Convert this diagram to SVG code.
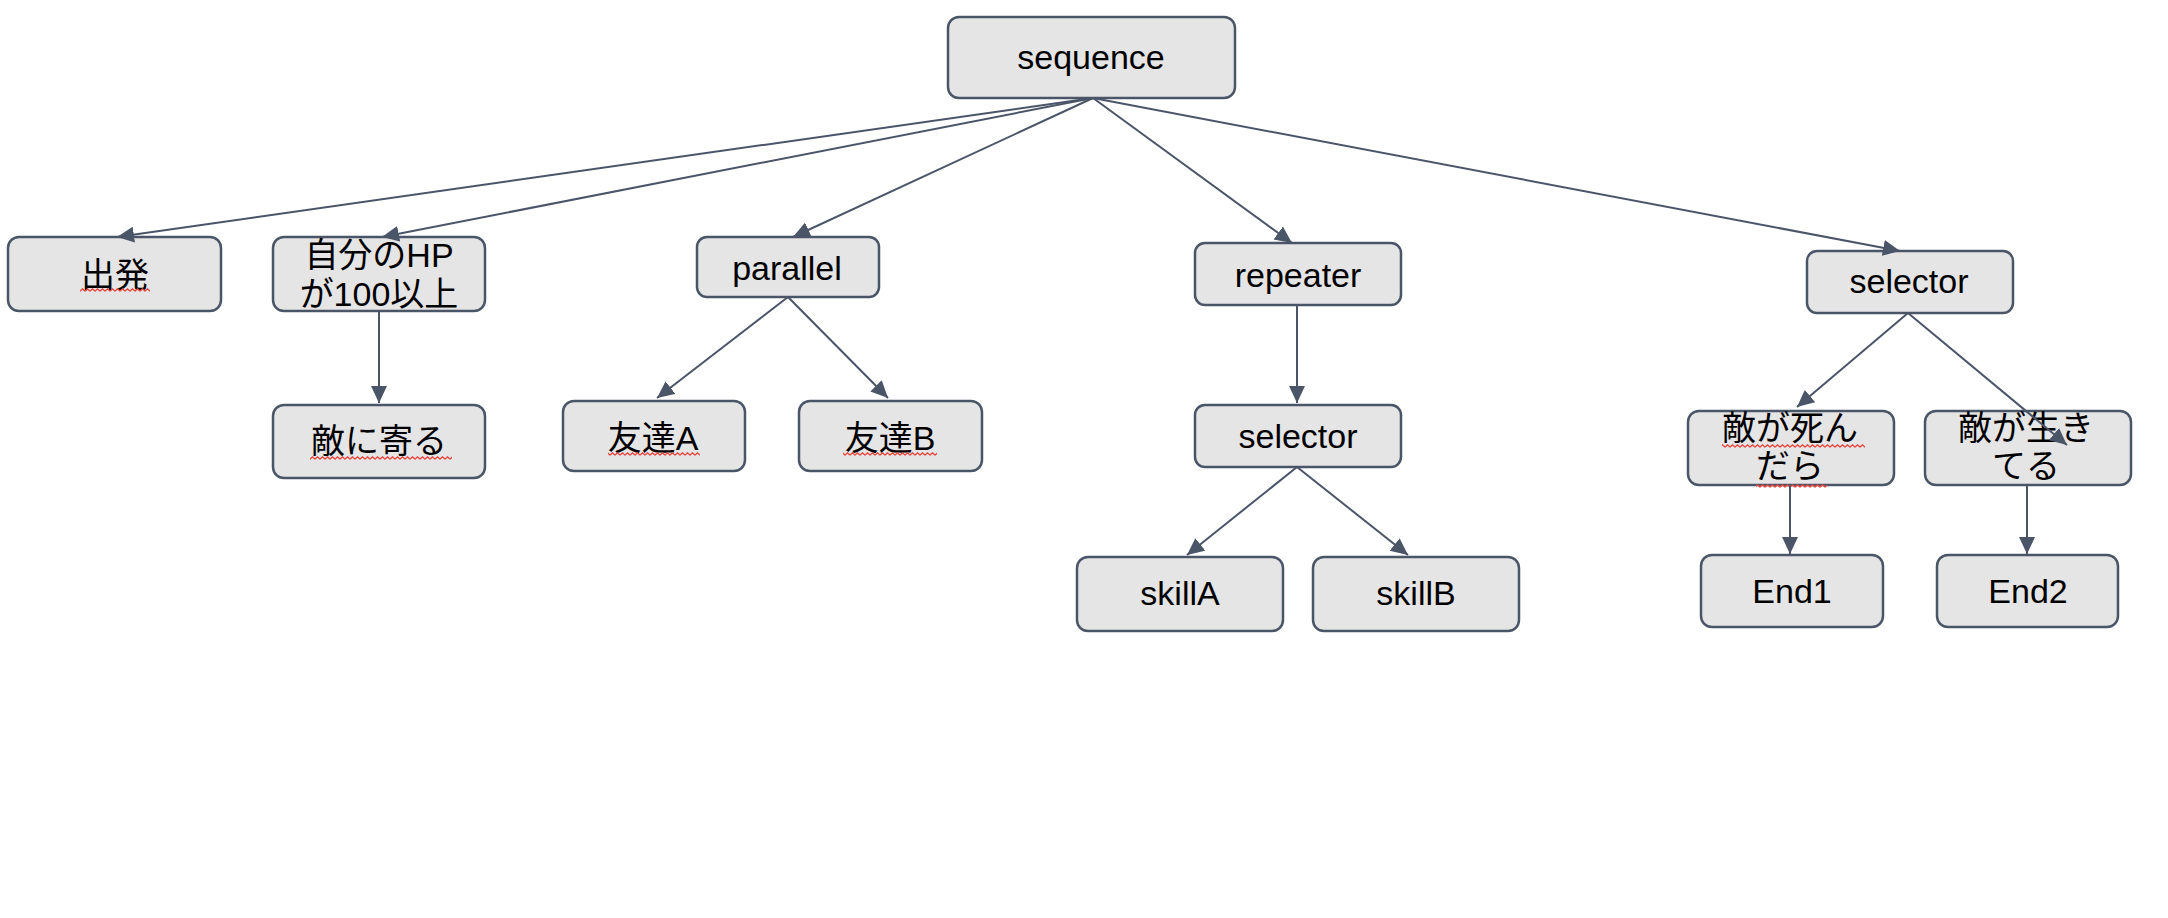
<svg xmlns="http://www.w3.org/2000/svg" width="2168" height="918" viewBox="0 0 2168 918">
<style>
.box{fill:#e5e5e5;stroke:#4b5568;stroke-width:2.5}
.t{font-family:"Liberation Sans","Noto Sans CJK JP",sans-serif;font-size:34px;fill:#000;text-anchor:middle}
.e{stroke:#4b5568;stroke-width:2;fill:none;marker-end:url(#ah)}
.sq{fill:url(#zig)}
</style>
<defs>
<marker id="ah" markerUnits="userSpaceOnUse" markerWidth="19" markerHeight="17" refX="17" refY="8" orient="auto">
<path d="M0,0 L17,8 L0,16 z" fill="#4b5568"/>
</marker>
<pattern id="zig" patternUnits="userSpaceOnUse" width="5" height="4">
<path d="M0,3.2 L2.5,0.8 L5,3.2" stroke="#e8453c" stroke-width="1.2" fill="none"/>
</pattern>
</defs>
<rect width="2168" height="918" fill="#fff"/>
<g id="sequence"><rect class="box" x="948" y="17" width="287" height="81" rx="11"/><text class="t" x="1091" y="69">sequence</text></g>
<g id="start"><rect class="box" x="8" y="237" width="213" height="74" rx="11"/><text class="t" x="115" y="287">出発</text><rect class="sq" x="80" y="288" width="70" height="4"/></g>
<g id="hpcheck"><rect class="box" x="273" y="237" width="212" height="74" rx="11"/><text class="t" x="379" y="267">自分のHP</text><text class="t" x="379" y="306">が100以上</text></g>
<g id="approach"><rect class="box" x="273" y="405" width="212" height="73" rx="11"/><text class="t" x="379" y="453">敵に寄る</text><rect class="sq" x="310" y="456" width="142" height="4"/></g>
<g id="parallel"><rect class="box" x="697" y="237" width="182" height="60" rx="10"/><text class="t" x="787" y="280">parallel</text></g>
<g id="friendA"><rect class="box" x="563" y="401" width="182" height="70" rx="11"/><text class="t" x="653" y="450">友達A</text><rect class="sq" x="608" y="452" width="92" height="4"/></g>
<g id="friendB"><rect class="box" x="799" y="401" width="183" height="70" rx="11"/><text class="t" x="890" y="450">友達B</text><rect class="sq" x="843" y="452" width="94" height="4"/></g>
<g id="repeater"><rect class="box" x="1195" y="243" width="206" height="62" rx="10"/><text class="t" x="1298" y="287">repeater</text></g>
<g id="selector1"><rect class="box" x="1195" y="405" width="206" height="62" rx="10"/><text class="t" x="1298" y="448">selector</text></g>
<g id="skillA"><rect class="box" x="1077" y="557" width="206" height="74" rx="11"/><text class="t" x="1180" y="605">skillA</text></g>
<g id="skillB"><rect class="box" x="1313" y="557" width="206" height="74" rx="11"/><text class="t" x="1416" y="605">skillB</text></g>
<g id="selector2"><rect class="box" x="1807" y="251" width="206" height="62" rx="10"/><text class="t" x="1909" y="293">selector</text></g>
<g id="enemyDead"><rect class="box" x="1688" y="411" width="206" height="74" rx="11"/><text class="t" x="1790" y="440">敵が死ん</text><text class="t" x="1790" y="478">だら</text><rect class="sq" x="1722" y="444" width="143" height="4"/><rect class="sq" x="1756" y="484" width="71" height="4"/></g>
<g id="enemyAlive"><rect class="box" x="1925" y="411" width="206" height="74" rx="11"/><text class="t" x="2026" y="440">敵が生き</text><text class="t" x="2026" y="478">てる</text></g>
<g id="end1"><rect class="box" x="1701" y="555" width="182" height="72" rx="11"/><text class="t" x="1792" y="603">End1</text></g>
<g id="end2"><rect class="box" x="1937" y="555" width="181" height="72" rx="11"/><text class="t" x="2028" y="603">End2</text></g>
<g id="connectors">
<line class="e" x1="1093" y1="98" x2="117" y2="237"/>
<line class="e" x1="1093" y1="98" x2="382" y2="237"/>
<line class="e" x1="1093" y1="98" x2="793" y2="237"/>
<line class="e" x1="1093" y1="98" x2="1292" y2="243"/>
<line class="e" x1="1093" y1="98" x2="1900" y2="251"/>
<line class="e" x1="379" y1="311" x2="379" y2="403"/>
<line class="e" x1="788" y1="297" x2="657" y2="398"/>
<line class="e" x1="788" y1="297" x2="888" y2="398"/>
<line class="e" x1="1297" y1="305" x2="1297" y2="403"/>
<line class="e" x1="1297" y1="467" x2="1187" y2="555"/>
<line class="e" x1="1297" y1="467" x2="1408" y2="555"/>
<line class="e" x1="1908" y1="313" x2="1797" y2="407"/>
<line class="e" x1="1908" y1="313" x2="2067" y2="445"/>
<line class="e" x1="1790" y1="485" x2="1790" y2="554"/>
<line class="e" x1="2027" y1="485" x2="2027" y2="554"/>
</g>
</svg>
